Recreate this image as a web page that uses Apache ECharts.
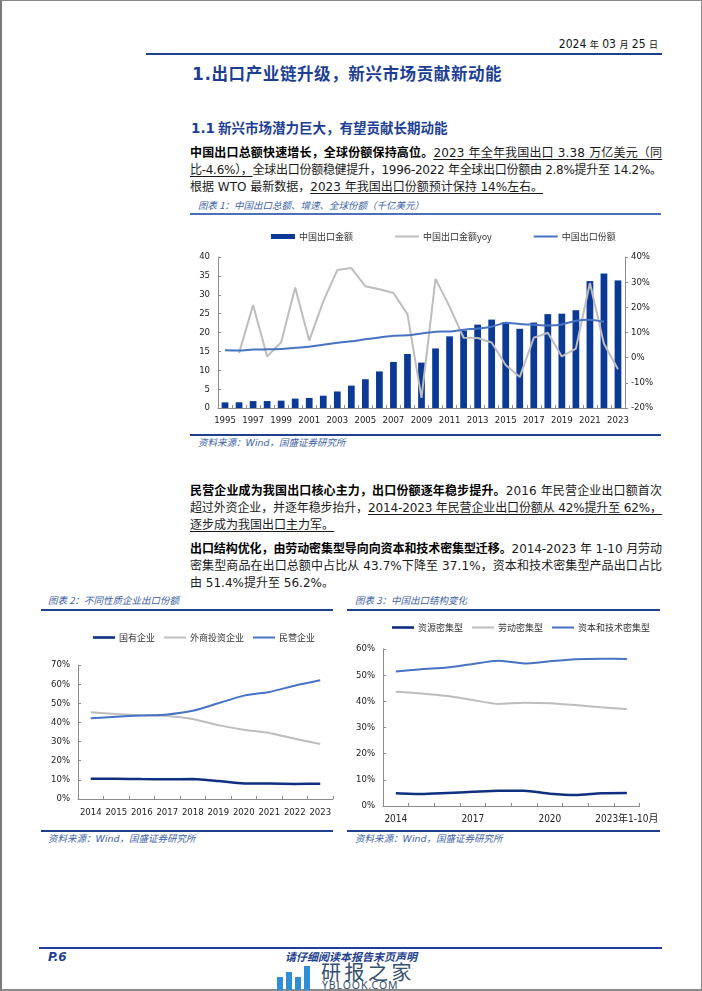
<!DOCTYPE html>
<html><head><meta charset="utf-8">
<script src="https://cdn.jsdelivr.net/npm/echarts@6/dist/echarts.min.js"></script>
<style>
html,body{margin:0;padding:0;background:#fff;}
#page{position:relative;width:702px;height:991px;overflow:hidden;background:#fff;font-family:"DejaVu Sans","Noto Sans CJK SC",sans-serif;color:#1a1a1a;}
.frame{position:absolute;left:0;top:0;width:699px;height:988px;border:1px solid #8a8a8a;border-left:2px solid #7a7a7a;border-bottom:2px solid #8a8a8a;}
.abs{position:absolute;white-space:nowrap;}
.hl{position:absolute;background:#1f3f8f;}
.ln{position:absolute;left:190px;width:472px;font-size:12px;line-height:17px;height:17px;white-space:nowrap;color:#1a1a1a;}
.ln b{font-weight:bold;color:#000;}
.ln u{text-decoration:underline;text-underline-offset:2px;text-decoration-thickness:1px;}
.cap{position:absolute;font-family:"Noto Sans CJK SC","DejaVu Sans",sans-serif;font-style:italic;font-size:9.5px;color:#3d5fa8;white-space:nowrap;line-height:12px;}
.src{position:absolute;font-family:"Noto Sans CJK SC","DejaVu Sans",sans-serif;font-style:italic;font-size:9.5px;color:#3d5fa8;white-space:nowrap;line-height:12px;}
.src i.w{font-family:"DejaVu Sans",sans-serif;}
.chart{position:absolute;}
</style></head>
<body><div id="page">
<div class="frame"></div>

<div class="abs" style="right:44px;top:36px;font-size:12px;line-height:16px;color:#111;font-family:'DejaVu Sans Condensed','DejaVu Sans','Noto Sans CJK SC',sans-serif;">2024 <span style="font-size:9px;font-family:'Noto Sans CJK SC'">年</span> 03 <span style="font-size:9px;font-family:'Noto Sans CJK SC'">月</span> 25 <span style="font-size:9px;font-family:'Noto Sans CJK SC'">日</span></div>
<div class="hl" style="left:146px;top:53px;width:516px;height:2px;"></div>

<div class="abs" style="left:192px;top:62px;font-size:16.5px;line-height:22px;font-weight:bold;color:#1c3f94;font-family:'Noto Sans CJK SC',sans-serif;letter-spacing:0.6px;"><span style="font-family:'DejaVu Sans';font-size:17px;">1.</span>出口产业链升级，新兴市场贡献新动能</div>

<div class="abs" style="left:191px;top:118px;font-size:13.5px;line-height:18px;font-weight:bold;color:#1c3f94;font-family:'Noto Sans CJK SC',sans-serif;"><span style="font-family:'DejaVu Sans'">1.1</span> 新兴市场潜力巨大，有望贡献长期动能</div>

<div class="ln j" data-p="1" style="top:145px;"><span class="in"><b>中国出口总额快速增长，全球份额保持高位。</b><u>2023 年全年我国出口 3.38 万亿美元（同</u></span></div>
<div class="ln j" data-p="1" style="top:162px;"><span class="in"><u>比-4.6%），</u>全球出口份额稳健提升，1996-2022 年全球出口份额由 2.8%提升至 14.2%。</span></div>
<div class="ln" data-p="1" style="top:179px;"><span class="in">根据 WTO 最新数据，<u>2023 年我国出口份额预计保持 14%左右。</u></span></div>

<div class="cap" style="left:198px;top:199px;">图表 1：中国出口总额、增速、全球份额（千亿美元）</div>
<div class="hl" style="left:190px;top:213px;width:471px;height:2px;background:#4f6fb8;"></div>
<div id="c1" class="chart" style="left:180px;top:218px;width:500px;height:214px;"></div>
<div class="hl" style="left:190px;top:434px;width:471px;height:1.5px;"></div>
<div class="src" style="left:198px;top:436px;">资料来源：<i class="w">Wind</i>，国盛证券研究所</div>

<div class="ln j" data-p="2" style="top:483px;"><span class="in"><b>民营企业成为我国出口核心主力，出口份额逐年稳步提升。</b>2016 年民营企业出口额首次</span></div>
<div class="ln j" data-p="2" style="top:500px;"><span class="in">超过外资企业，并逐年稳步抬升，<u>2014-2023 年民营企业出口份额从 42%提升至 62%，</u></span></div>
<div class="ln" data-p="2" style="top:517px;"><span class="in"><u>逐步成为我国出口主力军。</u></span></div>

<div class="ln j" data-p="3" style="top:541px;"><span class="in"><b>出口结构优化，由劳动密集型导向向资本和技术密集型迁移。</b>2014-2023 年 1-10 月劳动</span></div>
<div class="ln j" data-p="3" style="top:558px;"><span class="in">密集型商品在出口总额中占比从 43.7%下降至 37.1%，资本和技术密集型产品出口占比</span></div>
<div class="ln" data-p="3" style="top:575px;"><span class="in">由 51.4%提升至 56.2%。</span></div>

<div class="cap" style="left:48px;top:594px;">图表 2：不同性质企业出口份额</div>
<div class="hl" style="left:41px;top:609px;width:292px;height:1.5px;"></div>
<div id="c2" class="chart" style="left:30px;top:615px;width:310px;height:212px;"></div>
<div class="hl" style="left:41px;top:830px;width:292px;height:1.5px;"></div>
<div class="src" style="left:48px;top:832px;">资料来源：<i class="w">Wind</i>，国盛证券研究所</div>

<div class="cap" style="left:355px;top:594px;">图表 3：中国出口结构变化</div>
<div class="hl" style="left:347px;top:609px;width:313px;height:1.5px;"></div>
<div id="c3" class="chart" style="left:340px;top:615px;width:321px;height:212px;"></div>
<div class="hl" style="left:347px;top:830px;width:313px;height:1.5px;"></div>
<div class="src" style="left:355px;top:832px;">资料来源：<i class="w">Wind</i>，国盛证券研究所</div>

<div class="hl" style="left:39px;top:947px;width:623px;height:2px;background:#1f3f9a;"></div>
<div class="abs" style="left:48px;top:950px;font-size:12px;line-height:15px;font-weight:bold;font-style:italic;color:#1f3f8f;font-family:'DejaVu Sans',sans-serif;">P.6</div>
<div class="abs" style="left:280px;top:950px;width:142px;text-align:center;font-size:11px;line-height:13px;font-weight:bold;font-style:italic;color:#1f3f8f;font-family:'Noto Sans CJK SC',sans-serif;">请仔细阅读本报告末页声明</div>

<div class="abs" style="left:277px;top:977px;width:6px;height:13px;background:#2f8ed6;"></div>
<div class="abs" style="left:286px;top:972px;width:6px;height:18px;background:#2f8ed6;"></div>
<div class="abs" style="left:295px;top:977px;width:6px;height:13px;background:#2f8ed6;"></div>
<div class="abs" style="left:304px;top:966px;width:6px;height:24px;background:#2f8ed6;"></div>
<div class="abs" style="left:321px;top:962px;font-size:20px;line-height:20px;color:#34506e;font-family:'Noto Sans CJK SC',sans-serif;letter-spacing:3.5px;">研报之家</div>
<div class="abs" style="left:322px;top:980px;font-size:10.5px;line-height:11px;color:#34506e;font-family:'Noto Sans',sans-serif;letter-spacing:0.9px;">YBLOOK.COM</div>
</div>

<script>
// ---------- Chart 1 data ----------
const years1 = ['1995','1996','1997','1998','1999','2000','2001','2002','2003','2004','2005','2006','2007','2008','2009','2010','2011','2012','2013','2014','2015','2016','2017','2018','2019','2020','2021','2022','2023'];
const exportValue = [1.49,1.51,1.83,1.84,1.95,2.49,2.66,3.26,4.38,5.93,7.62,9.69,12.20,14.31,12.02,15.78,18.98,20.49,22.09,23.42,22.73,20.98,22.63,24.87,24.99,25.90,33.62,35.60,33.80];
const exportYoy = [null,1.8,20.9,0.5,6.1,27.9,6.8,22.4,34.8,35.6,28.4,27.2,25.7,17.3,-16.0,31.3,20.3,7.9,7.8,6.0,-2.9,-7.7,7.9,9.9,0.5,3.6,29.7,5.5,-4.6];
const worldShare = [2.9,2.8,3.2,3.3,3.4,3.9,4.3,5.1,5.9,6.5,7.3,8.0,8.7,8.9,9.6,10.3,10.4,11.1,11.6,12.3,13.9,13.4,13.1,12.8,13.2,14.7,15.1,14.3,null];
const leftTicks1 = {min:0, max:40, interval:5};
const rightTicks1 = {min:-20, max:40, interval:10};

// ---------- Chart 2 data ----------
const years2 = ['2014','2015','2016','2017','2018','2019','2020','2021','2022','2023'];
const stateOwned = [10.6,10.6,10.4,10.3,10.4,9.4,8.1,8.1,7.9,8.0];
const foreignInvested = [45.3,44.4,43.7,43.4,41.8,38.6,36.2,34.5,31.5,28.7];
const privateEnt = [42.2,43.0,43.6,44.2,46.1,50.0,54.0,55.9,59.2,62.0];

// ---------- Chart 3 data ----------
const years3 = ['2014','2015','2016','2017','2018','2019','2020','2021','2022','2023年1-10月'];
const resourceInt = [4.9,4.6,5.0,5.4,5.8,5.8,4.7,4.2,4.9,5.0];
const laborInt = [43.7,43.0,42.0,40.5,39.0,39.5,39.3,38.6,37.7,37.1];
const capitalTechInt = [51.4,52.3,52.9,54.3,55.5,54.5,55.3,56.1,56.3,56.2];

const NUMF = '"DejaVu Sans Condensed","DejaVu Sans","Noto Sans CJK SC",sans-serif';
const CJKF = '"Noto Sans CJK SC","DejaVu Sans",sans-serif';
const AX = '#8c8c8c';
const DARK = '#0b3a96';
const NAVY = '#102f80';
const GRAY = '#bdbdbd';
const BLUE = '#4673c4';
const LINE_ICON = 'path://M0,0 L24,0 L24,2 L0,2 Z';
const THICK_ICON = 'path://M0,0 L22,0 L22,2.6 L0,2.6 Z';
const THIN_ICON = 'path://M0,0 L22,0 L22,2 L0,2 Z';

function xCat(data, interval, margin, fs){
  return {type:'category', data:data, boundaryGap:true,
    axisLine:{show:true, lineStyle:{color:AX, width:1}},
    axisTick:{show:true, inside:true, length:3, interval:0, alignWithLabel:false, lineStyle:{color:AX}},
    axisLabel:{interval:interval, fontSize:fs||9.5, color:'#222', fontFamily:NUMF, margin:margin, hideOverlap:false},
    splitLine:{show:false}};
}
function yVal(t, fmt, opts){
  return Object.assign({type:'value', min:t.min, max:t.max, interval:t.interval,
    axisLine:{show:true, lineStyle:{color:AX, width:1}},
    axisTick:{show:true, inside:true, length:3, lineStyle:{color:AX}},
    axisLabel:{fontSize:9.5, color:'#222', fontFamily:NUMF, margin:8, formatter:fmt},
    splitLine:{show:false}}, opts||{});
}
function legendCfg(left, top, gap, data){
  return {left:left, top:top, itemGap:gap, itemWidth:22, itemHeight:5, data:data,
    textStyle:{fontSize:9, color:'#333', fontFamily:CJKF, padding:[0,0,0,-1]}};
}

const c1 = echarts.init(document.getElementById('c1'), null, {renderer:'canvas'});
c1.setOption({
  animation:false,
  legend: Object.assign(legendCfg(86, 9, 42, [
    {name:'中国出口金额', icon:'rect'},
    {name:'中国出口金额yoy', icon:LINE_ICON},
    {name:'中国出口份额', icon:LINE_ICON}]), {itemWidth:24}),
  grid:{left:38, right:55, top:39, bottom:24},
  xAxis: xCat(years1, 1, 8),
  yAxis:[
    yVal(leftTicks1, '{value}', {position:'left'}),
    yVal(rightTicks1, '{value}%', {position:'right', axisTick:{show:true, inside:false, length:3, lineStyle:{color:AX}}, axisLabel:{fontSize:9.5, color:'#222', fontFamily:NUMF, margin:6, formatter:'{value}%'}})
  ],
  series:[
    {name:'中国出口金额', type:'bar', data:exportValue, yAxisIndex:0, barWidth:'48%', itemStyle:{color:DARK}},
    {name:'中国出口金额yoy', type:'line', data:exportYoy, yAxisIndex:1, symbol:'none', lineStyle:{color:GRAY, width:2}, itemStyle:{color:GRAY}},
    {name:'中国出口份额', type:'line', data:worldShare, yAxisIndex:1, symbol:'none', smooth:0.2, lineStyle:{color:BLUE, width:2}, itemStyle:{color:BLUE}}
  ]
});

const c2 = echarts.init(document.getElementById('c2'), null, {renderer:'canvas'});
c2.setOption({
  animation:false,
  legend: legendCfg(58, 13, 9, [
    {name:'国有企业', icon:THICK_ICON},
    {name:'外商投资企业', icon:THIN_ICON},
    {name:'民营企业', icon:THIN_ICON}]),
  grid:{left:48, right:7, top:50, bottom:28},
  xAxis: xCat(years2, 0, 9),
  yAxis: yVal({min:0, max:70, interval:10}, '{value}%'),
  series:[
    {name:'国有企业', type:'line', data:stateOwned, symbol:'none', smooth:0.2, lineStyle:{color:NAVY, width:2.5}, itemStyle:{color:NAVY}},
    {name:'外商投资企业', type:'line', data:foreignInvested, symbol:'none', smooth:0.2, lineStyle:{color:GRAY, width:2}, itemStyle:{color:GRAY}},
    {name:'民营企业', type:'line', data:privateEnt, symbol:'none', smooth:0.2, lineStyle:{color:BLUE, width:2}, itemStyle:{color:BLUE}}
  ]
});

const c3 = echarts.init(document.getElementById('c3'), null, {renderer:'canvas'});
c3.setOption({
  animation:false,
  legend: legendCfg(47, 3, 9, [
    {name:'资源密集型', icon:THICK_ICON},
    {name:'劳动密集型', icon:THIN_ICON},
    {name:'资本和技术密集型', icon:THIN_ICON}]),
  grid:{left:43, right:11, top:34, bottom:21},
  xAxis: xCat(years3, 2, 8, 10),
  yAxis: yVal({min:0, max:60, interval:10}, '{value}%'),
  series:[
    {name:'资源密集型', type:'line', data:resourceInt, symbol:'none', smooth:0.2, lineStyle:{color:NAVY, width:2.5}, itemStyle:{color:NAVY}},
    {name:'劳动密集型', type:'line', data:laborInt, symbol:'none', smooth:0.2, lineStyle:{color:GRAY, width:2}, itemStyle:{color:GRAY}},
    {name:'资本和技术密集型', type:'line', data:capitalTechInt, symbol:'none', smooth:0.2, lineStyle:{color:BLUE, width:2}, itemStyle:{color:BLUE}}
  ]
});

function fitLines(){
  const W = 472;
  const per = {};
  document.querySelectorAll('.ln').forEach(el => { el.style.letterSpacing = '0px'; });
  document.querySelectorAll('.ln.j').forEach(el => {
    const inner = el.querySelector('.in');
    const w = inner.getBoundingClientRect().width;
    const n = inner.textContent.length;
    const ls = (W - w) / (n - 1);
    el.style.letterSpacing = ls.toFixed(3) + 'px';
    const p = el.dataset.p;
    (per[p] = per[p] || []).push(ls);
  });
  document.querySelectorAll('.ln:not(.j)').forEach(el => {
    const arr = per[el.dataset.p] || [0];
    const avg = arr.reduce((a,b)=>a+b,0)/arr.length;
    el.style.letterSpacing = Math.max(0, avg).toFixed(3) + 'px';
  });
}
fitLines();
if (document.fonts && document.fonts.ready) document.fonts.ready.then(fitLines);
</script>
</body></html>
